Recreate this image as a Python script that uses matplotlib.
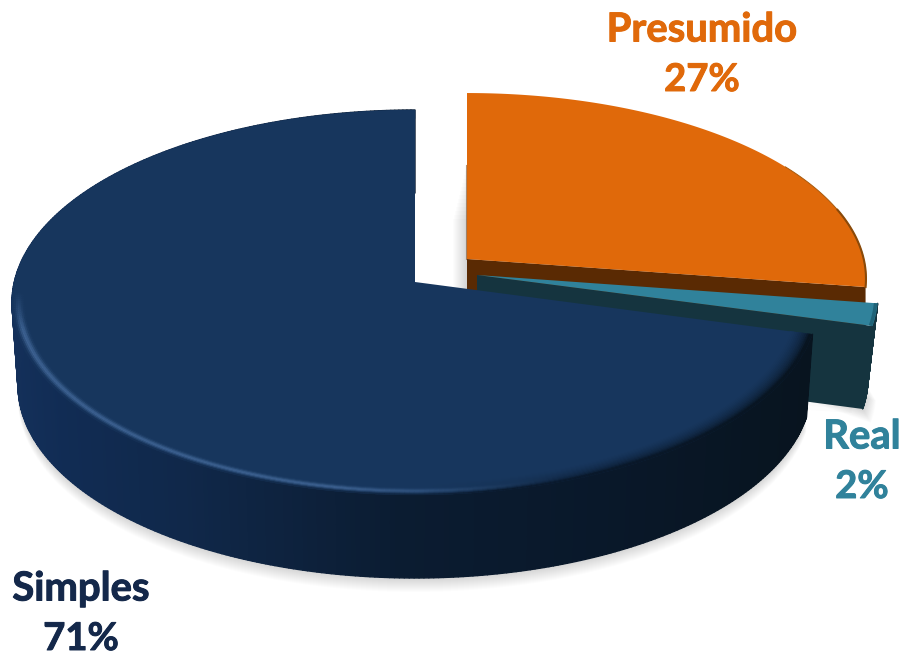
#!/usr/bin/env python3
import matplotlib
matplotlib.use("Agg")
import matplotlib.pyplot as plt
import matplotlib.patheffects as pe
from matplotlib.collections import PolyCollection
import numpy as np

categories = ["Presumido", "Real", "Simples"]
shares = [27.4, 1.9, 70.7]

W, H = 904, 657
K = 0.1065  # perspective of the disc
A = 190.3
RX = 400.7
DEPTH = 83

ORANGE = "#e0690a"
TEAL = "#30829b"
NAVY = "#17365d"

fig = plt.figure(figsize=(W / 100, H / 100), dpi=100)
ax = fig.add_axes([0, 0, 1, 1])
ax.set_xlim(0, W)
ax.set_ylim(H, 0)
ax.axis("off")

plt.rcParams["font.family"] = ["Lato", "DejaVu Sans"]


def proj(t, r, apex, sx=1.0, sy=1.0):
    # t in radians, clockwise from 12 o'clock
    u = r * np.sin(t)
    v = r * np.cos(t)
    d = 1 + K * v
    return apex[0] + sx * RX * u / d, apex[1] - sy * A * v / d


def rgb(c):
    c = c.lstrip("#")
    return np.array([int(c[i:i + 2], 16) / 255 for i in (0, 2, 4)])


def ramp(x, xs, cols):
    cols = np.array([rgb(c) for c in cols])
    return np.column_stack([np.interp(x, xs, cols[:, i]) for i in range(3)])


def wall(t0, t1, apex, sx, sy, bottom, xs, cols, z, n=220):
    t = np.linspace(t0, t1, n)
    x, y = proj(t, 1, apex, sx, sy)
    xb = apex[0] + bottom * (x - apex[0])
    yb = y + DEPTH
    quads = [[(x[i], y[i]), (x[i + 1], y[i + 1]), (xb[i + 1], yb[i + 1]), (xb[i], yb[i])]
             for i in range(n - 1)]
    fc = ramp((x[:-1] + x[1:]) / 2, xs, cols)
    # thick edges so neighbouring strips overlap and leave no seams
    ax.add_collection(PolyCollection(quads, facecolors=fc, edgecolors=fc, linewidths=1.0, zorder=z))


def top(t0, t1, apex, sx, sy, color, z, n=240):
    t = np.linspace(t0, t1, n)
    x, y = proj(t, 1, apex, sx, sy)
    ax.fill(np.r_[apex[0], x], np.r_[apex[1], y], color=color, lw=0, zorder=z)


def cut(t, apex, sx, sy, bottom, color, z):
    x, y = proj(t, 1, apex, sx, sy)
    xb = apex[0] + bottom * (x - apex[0])
    ax.fill([apex[0], x, xb, apex[0]], [apex[1], y, y + DEPTH, apex[1] + DEPTH], color=color, lw=0, zorder=z)


def shadow(t0, t1, apex, sx, sy, bottom, z, dx=0.0, steps=14, alpha=0.012):
    t = np.linspace(t0, t1, 200)
    x, y = proj(t, 1, apex, sx, sy)
    xb = apex[0] + bottom * (x - apex[0])
    for i in range(1, steps + 1):
        ax.fill(np.r_[apex[0] - dx * i, xb - dx * i], np.r_[apex[1] + i, y + DEPTH + i],
                color="black", alpha=alpha, lw=0, zorder=z)


# angles follow from the shares, clockwise from 12 o'clock
ang = np.cumsum([0] + shares) / sum(shares) * 2 * np.pi

pres_apex, pres_sx, pres_sy = (467, 259), 0.99, 0.965
real_apex, real_sx, real_sy = (477, 275), 0.995, 0.975
simp_apex, simp_sx, simp_sy = (415, 282), 1.0, 1.0

# soft shadows first
shadow(ang[2], 2 * np.pi, simp_apex, simp_sx, simp_sy, 0.985, 1)
shadow(ang[1], ang[2], real_apex, real_sx, real_sy, 0.975, 1, dx=-0.6, steps=14, alpha=0.013)
t_p = np.linspace(0, ang[1], 100)
xp, yp = proj(t_p, 1, pres_apex, pres_sx, pres_sy)
for i in range(1, 15):
    ax.fill(np.r_[pres_apex[0] - i, xp - i], np.r_[pres_apex[1] + 70 + i * 4, yp + 70 + i * 4],
            color="black", alpha=0.012, lw=0, zorder=1)

# Presumido
cut(ang[1], pres_apex, pres_sx, pres_sy, 1.0, "#5a2a03", 3)
top(ang[0], ang[1], pres_apex, pres_sx, pres_sy, ORANGE, 4)
xe, ye = proj(np.linspace(np.radians(58), ang[1], 80), 1, pres_apex, pres_sx, pres_sy)
ax.plot(xe, ye, color="#a85a0c", lw=0.7, zorder=4)
xe, ye = proj(np.linspace(np.radians(74), ang[1], 60), 1, pres_apex, pres_sx, pres_sy)
ax.plot(xe, ye, color="#8a4a0a", lw=1.5, zorder=4)
ax.plot([pres_apex[0] - 0.5, pres_apex[0] - 0.5], [165, pres_apex[1]], color="#7a4a20", lw=0.8, alpha=0.6, zorder=4)

# Real
cut(ang[2], real_apex, real_sx, real_sy, 0.975, "#15343f", 5)
wall(ang[1], ang[2], real_apex, real_sx, real_sy, 0.975, [800, 900], ["#15343f", "#15343f"], 6, n=30)
top(ang[1], ang[2], real_apex, real_sx, real_sy, TEAL, 7)
xe, ye = proj(np.linspace(ang[1], ang[2], 20), 0.995, real_apex, real_sx, real_sy)
ax.plot(xe, ye, color="#1f6378", lw=2.5, solid_capstyle="butt", zorder=7)

# Simples wall and top
wall_x = [10, 60, 180, 400, 600, 810]
wall_c = ["#14305a", "#112c54", "#10284a", "#0b1c31", "#09182a", "#08141f"]
wall(ang[2], 2 * np.pi, simp_apex, simp_sx, simp_sy, 0.985, wall_x, wall_c, 8, n=400)
top(ang[2], 2 * np.pi, simp_apex, simp_sx, simp_sy, NAVY, 9)

# bevel along the front rim
t = np.linspace(ang[2], 2 * np.pi, 400)
rings = np.linspace(0.945, 1.0, 14)
quads, fcs = [], []
base = rgb(NAVY)
high = rgb("#3f6494")
for j in range(len(rings) - 1):
    x0, y0 = proj(t, rings[j], simp_apex)
    x1, y1 = proj(t, rings[j + 1], simp_apex)
    f = (rings[j] + rings[j + 1]) / 2
    s = (f - rings[0]) / (rings[-1] - rings[0])
    xm = (x0[:-1] + x0[1:]) / 2
    vm = np.cos((t[:-1] + t[1:]) / 2)
    vis = np.clip((-0.05 - vm) / 0.2, 0, 1)
    hl = np.clip((560 - xm) / 220, 0, 1) * np.exp(-((s - 0.72) / 0.16) ** 2)
    dark_w = np.clip((xm - 420) / 200, 0, 1) * s ** 1.6 + s ** 10
    wc = ramp(xm, wall_x, wall_c)
    col = base + (high - base) * (hl * vis)[:, None]
    col = col + (wc - col) * (np.clip(dark_w, 0, 1) * vis)[:, None]
    for i in range(len(t) - 1):
        quads.append([(x0[i], y0[i]), (x0[i + 1], y0[i + 1]), (x1[i + 1], y1[i + 1]), (x1[i], y1[i])])
        fcs.append(col[i])
ax.add_collection(PolyCollection(quads, facecolors=fcs, edgecolors="face", linewidths=0.3, zorder=10))

# labels
label_colors = [ORANGE, TEAL, "#14284a"]
label_xy = [(702, 30), (862, 437), (81, 589)]
for name, share, col, (lx, ly) in zip(categories, shares, label_colors, label_xy):
    for txt, yy, fs in [(name, ly, 28.8), (f"{round(share)}%", ly + 50, 27.5)]:
        ax.text(lx, yy, txt, color=col, fontsize=fs, fontweight="bold", ha="center", va="center", zorder=20,
                path_effects=[pe.withStroke(linewidth=0.7, foreground=col)])

fig.savefig("out.png", dpi=100)
